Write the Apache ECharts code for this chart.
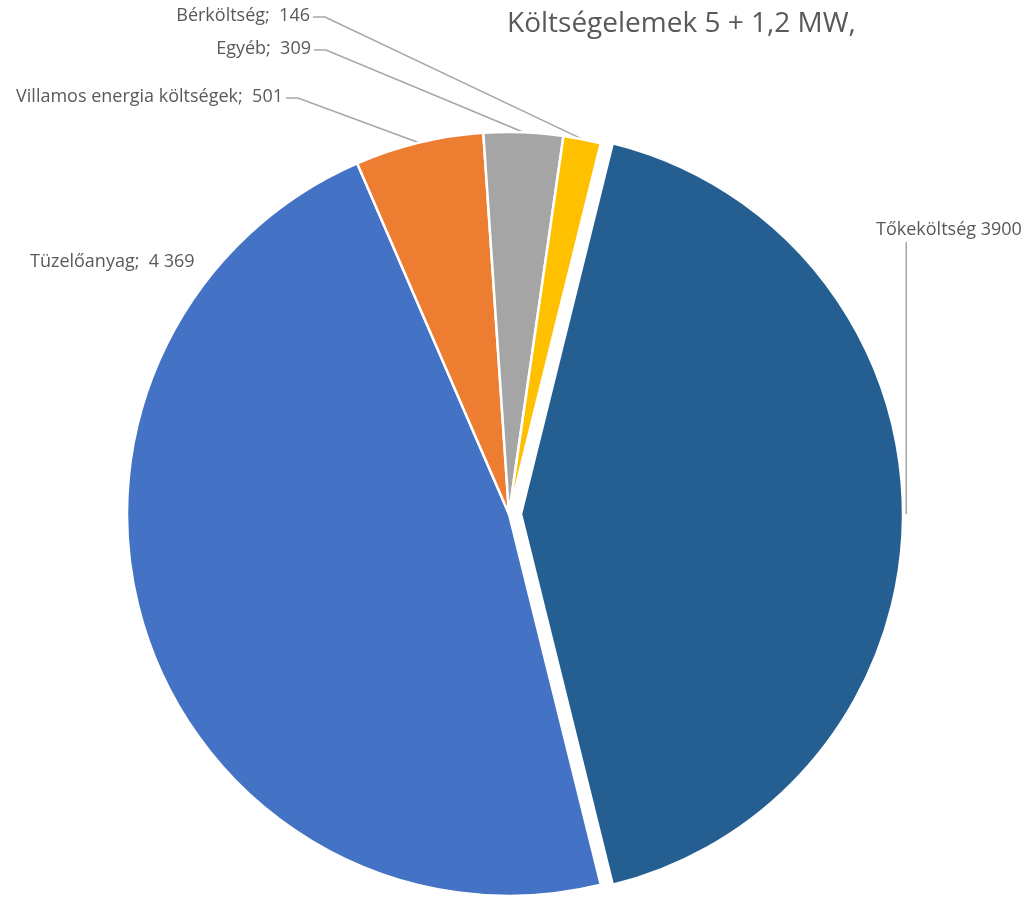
<!DOCTYPE html>
<html>
<head>
<meta charset="utf-8">
<script src="https://cdn.jsdelivr.net/npm/echarts@6/dist/echarts.min.js"></script>
<style>
html, body { margin: 0; padding: 0; background: #fff; }
#chart { width: 1025px; height: 899px; }
</style>
</head>
<body>
<div id="chart"></div>
<script>
// adatok
var names = ["Tőkeköltség", "Tüzelőanyag", "Villamos energia költségek", "Egyéb", "Bérköltség"];
var values = [3900, 4369, 501, 309, 146];
var colors = ["#255E91", "#4472C4", "#ED7D31", "#A5A5A5", "#FFC000"];

var explodeIndex = 0;   // a kiemelt (kihúzott) szelet
var explodeOffset = 12; // px

// címkék helye
var labelPos = [
    { x: 876, y: 230, align: "left" },   // Tőkeköltség
    { x: 30, y: 262, align: "left" },    // Tüzelőanyag
    { x: 283, y: 97, align: "right" },   // Villamos
    { x: 311, y: 49, align: "right" },   // Egyéb
    { x: 310, y: 16, align: "right" }    // Bérköltség
];

var center = [509, 514];
var radius = 382;
var startAngle = 76.1;

function fmt(v) {
    // ezres elválasztó szóközzel (4 369)
    return v >= 4000 ? String(v).replace(/\B(?=(\d{3})+(?!\d))/g, " ") : String(v);
}

// a kiemelt szelet középszöge -> eltolás
var total = values.reduce(function (a, b) { return a + b; }, 0);
var before = 0;
for (var i = 0; i < explodeIndex; i++) before += values[i];
var midAngle = (startAngle - (before + values[explodeIndex] / 2) / total * 360) * Math.PI / 180;
var explodedCenter = [center[0] + Math.cos(midAngle) * explodeOffset, center[1] - Math.sin(midAngle) * explodeOffset];

var chart = echarts.init(document.getElementById("chart"));

var labelStyle = {
    show: true,
    position: "outside",
    fontFamily: "Open Sans",
    fontSize: 18,
    color: "#595959",
    overflow: "none",
    formatter: function (p) {
        if (p.dataIndex === explodeIndex) return p.name + " " + p.value;
        return p.name + ";  " + fmt(p.value);
    }
};

function makeData(visibleExploded) {
    return names.map(function (n, i) {
        var own = (i === explodeIndex) === visibleExploded;
        var item = { name: n, value: values[i] };
        if (own) {
            item.itemStyle = { color: colors[i] };
            if (i === 1) item.labelLine = { show: false };
        } else {
            item.itemStyle = { color: "transparent", borderWidth: 0 };
            item.label = { show: false };
            item.labelLine = { show: false };
        }
        return item;
    });
}

function layoutLabel(params) {
    var pos = labelPos[params.dataIndex];
    var res = { x: pos.x, y: pos.y, align: pos.align, verticalAlign: "middle" };
    var pts = params.labelLinePoints;
    if (pts && pts.length) {
        var anchor = pts[0];
        if (params.dataIndex === explodeIndex) {
            var lx = params.rect.x + params.rect.width + 2;
            res.labelLinePoints = [[lx, anchor[1]], [lx, pos.y + 12], [lx, pos.y + 12]];
        } else if (pos.align === "right") {
            res.labelLinePoints = [anchor, [pos.x + 15, pos.y + 1], [pos.x + 3, pos.y + 1]];
        }
    }
    return res;
}

var baseSeries = {
    type: "pie",
    radius: radius,
    startAngle: startAngle,
    clockwise: true,
    silent: true,
    itemStyle: { borderColor: "#fff", borderWidth: 2.5 },
    emphasis: { disabled: true },
    label: labelStyle,
    labelLine: {
        show: true,
        length: 10,
        length2: 10,
        lineStyle: { color: "#A6A6A6", width: 1.5 }
    },
    labelLayout: layoutLabel
};

var option = {
    animation: false,
    title: {
        text: "Költségelemek 5 + 1,2 MW,",
        left: 502,
        top: 5,
        textStyle: { fontFamily: "Open Sans", fontSize: 28, fontWeight: "normal", color: "#595959" }
    },
    series: [
        Object.assign({}, baseSeries, { center: center, data: makeData(false) }),
        Object.assign({}, baseSeries, { center: explodedCenter, data: makeData(true) })
    ]
};

chart.setOption(option);
</script>
</body>
</html>
